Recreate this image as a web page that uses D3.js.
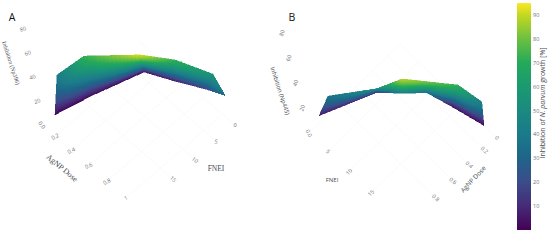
<!DOCTYPE html>
<html>
<head>
<meta charset="utf-8">
<script src="https://cdn.jsdelivr.net/npm/d3@7"></script>
<style>
  html, body { margin: 0; padding: 0; background: #fff; }
  svg { display: block; }
</style>
</head>
<body>
<div id="visual"></div>
<script>
// tick labels
const zTicks = [20, 40, 60, 80];
const doseTicksA = [0.2, 0.4, 0.6, 0.8, 1];
const fneiTicksA = [0, 5, 10, 15];
const doseTicksB = [0, 0.2, 0.4, 0.6, 0.8];
const fneiTicksB = [5, 10, 15];
const barTicks = [10, 20, 30, 40, 50, 60, 70, 80, 90];

// panel A (Np396): far edge of the sheet, then near edge
const farDoseA = [0.106, 0.421, 0.878, 0.947, 1.105, 1.149];
const farFneiA = [20.7, 20.2, 16.9, 10.5, 5.2, 3.3];
const farInhibA = [40, 72, 92, 72, 55, 35];
const nearDoseA = [0.04, 0.16, 0.33, 0.56, 0.89, 1.149];
const nearFneiA = [20.2, 13.8, 4.7, 3.1, 1.9, 3.3];
const nearInhibA = [2, 3, 4, 7, 18, 35];

// panel B (Np445)
const farDoseB = [1.072, 0.876, 0.938, 0.741, 0.534, 0.249];
const farFneiB = [3.7, 11.1, 18, 20.3, 22.6, 22.9];
const farInhibB = [36, 52, 88, 80, 72, 42];
const nearDoseB = [1.02, 0.63, 0.707, 0.483, 0.15, 0.03];
const nearFneiB = [0, 5.9, 13.5, 14.8, 14.8, 20.2];
const nearInhibB = [6, 15, 45, 35, 4, 2];

// colour bar, greener than plain viridis
const barStops = [0, 10, 20, 30, 40, 50, 60, 70, 80, 90, 95];
const barColors = ["#440154", "#462a78", "#3b4c8a", "#1f6488", "#1a7a8a", "#1a8a80",
                   "#1a9a70", "#25a95a", "#6cc040", "#c4d820", "#fde725"];

const width = 550, height = 243;
const tickColor = "#6b6f76", titleColor = "#474a52";

const color = d3.scaleLinear().domain(barStops).range(barColors);

const svg = d3.select("#visual").append("svg")
    .attr("width", width)
    .attr("height", height)
    .style("font-family", "Open Sans, sans-serif");

// the reference is soft, this also closes the seams between cells
const defs = svg.append("defs");
defs.append("filter")
    .attr("id", "soft")
    .attr("x", "-5%").attr("y", "-5%").attr("width", "110%").attr("height", "110%")
    .append("feGaussianBlur")
    .attr("stdDeviation", 0.45);

// oblique view: each data axis gets its own screen x and y scale
function makeView(v) {
    const doseX = d3.scalePow().exponent(1.15).domain([0, 1]).range([0, v.doseVec[0]]);
    const doseY = d3.scalePow().exponent(1.15).domain([0, 1]).range([0, v.doseVec[1]]);
    const fneiX = d3.scalePow().exponent(1.08).domain([0, 15]).range([0, v.fneiVec[0]]);
    const fneiY = d3.scalePow().exponent(1.08).domain([0, 15]).range([0, v.fneiVec[1]]);
    const zY = d3.scaleLinear().domain([0, 100]).range([0, v.zPx]);
    return function (dose, fnei, z) {
        return [
            v.origin[0] + doseX(dose) + fneiX(fnei),
            v.origin[1] + doseY(dose) + fneiY(fnei) - zY(z)
        ];
    };
}

function drawSurface(project, far, near) {
    const g = svg.append("g")
        .attr("filter", "url(#soft)")
        .attr("shape-rendering", "crispEdges");
    const rows = 36, cols = 14;
    const farPts = far.dose.map((d, i) => project(d, far.fnei[i], far.z[i]));
    const nearPts = near.dose.map((d, i) => project(d, near.fnei[i], near.z[i]));

    // one cell of the sheet, at u along the edges and v across them
    function cell(i, u, v) {
        const top = [d3.interpolateNumber(farPts[i][0], farPts[i + 1][0])(u),
                     d3.interpolateNumber(farPts[i][1], farPts[i + 1][1])(u)];
        const bot = [d3.interpolateNumber(nearPts[i][0], nearPts[i + 1][0])(u),
                     d3.interpolateNumber(nearPts[i][1], nearPts[i + 1][1])(u)];
        return [top[0] + (bot[0] - top[0]) * v, top[1] + (bot[1] - top[1]) * v];
    }
    // purple only shows close to the near edge
    function value(i, u, v) {
        const t = d3.interpolateNumber(far.z[i], far.z[i + 1])(u);
        const b = d3.interpolateNumber(near.z[i], near.z[i + 1])(u);
        return t + (b - t) * Math.pow(v, 1.5);
    }

    d3.range(far.dose.length - 1).forEach(i => {
        d3.range(cols).forEach(c => {
            d3.range(rows).forEach(r => {
                const u0 = c / cols, u1 = (c + 1) / cols;
                const v0 = r / rows, v1 = (r + 1) / rows;
                const pts = [cell(i, u0, v0), cell(i, u1, v0), cell(i, u1, v1), cell(i, u0, v1)];
                const col = color(value(i, (u0 + u1) / 2, (v0 + v1) / 2));
                g.append("path")
                    .attr("d", "M" + pts.join("L") + "Z")
                    .attr("fill", col)
                    .attr("stroke", col)
                    .attr("stroke-width", 0.5);
            });
        });
    });
}

// barely visible grid on the floor of the box
function drawGrid(project, doseEnd, fneiEnd, doses, fneis) {
    const line = d3.line();
    const g = svg.append("g")
        .attr("fill", "none")
        .attr("stroke", "#f6f6f7")
        .attr("stroke-width", 0.6);
    doses.forEach(d => {
        g.append("path").attr("d", line([project(d, 0, 0), project(d, fneiEnd, 0)]));
    });
    fneis.forEach(f => {
        g.append("path").attr("d", line([project(0, f, 0), project(doseEnd, f, 0)]));
    });
}

function label(p, text, rot, size, fill, family) {
    svg.append("text")
        .attr("transform", "translate(" + p[0] + "," + p[1] + ") rotate(" + rot + ")")
        .attr("text-anchor", "middle")
        .attr("dominant-baseline", "central")
        .style("font-size", size + "px")
        .style("font-family", family || null)
        .style("fill", fill)
        .text(text);
}

// Panel A
const viewA = makeView({ origin: [138.4, 41], doseVec: [84, 73], fneiVec: [-62, 54], zPx: 120 });
drawGrid(viewA, 1.13, 22.6, doseTicksA, fneiTicksA);
drawSurface(viewA,
    { dose: farDoseA, fnei: farFneiA, z: farInhibA },
    { dose: nearDoseA, fnei: nearFneiA, z: nearInhibA });

const zLeanA = d3.scaleLinear().domain([0, 80]).range([0, -19]);
zTicks.forEach(z => {
    const p = viewA(0, 22.6, z);
    label([p[0] + zLeanA(z), p[1]], z, -22, 5.5, tickColor);
});
label(viewA(0, 22.6, 0), "0.0", 55, 5.5, tickColor);
doseTicksA.forEach(d => {
    label(viewA(d, 22.6, 0), d === 1 ? "1" : d.toFixed(1), -25, 5.5, tickColor);
});
fneiTicksA.forEach(f => {
    label(viewA(1.13, f, 0), f, f < 10 ? 10 : 40, 5.5, tickColor);
});
label([11, 63], "Inhibition (Np396)", 72, 6, titleColor, "Liberation Serif");
label([62, 168], "AgNP Dose", 40, 8, titleColor, "Liberation Serif");
label([216, 168], "FNEI", 0, 7.5, titleColor, "Liberation Serif");
label([12, 17], "A", 0, 10.5, "#111");

// Panel B
const viewB = makeView({ origin: [399.9, 43.9], doseVec: [-79, 77.5], fneiVec: [62, 60], zPx: 125 });
drawGrid(viewB, 1.15, 22.7, doseTicksB, [0].concat(fneiTicksB));
drawSurface(viewB,
    { dose: farDoseB, fnei: farFneiB, z: farInhibB },
    { dose: nearDoseB, fnei: nearFneiB, z: nearInhibB });

const zLeanB = d3.scaleLinear().domain([0, 80]).range([0, -27]);
zTicks.forEach(z => {
    const p = viewB(1.13, 0, z);
    label([p[0] + zLeanB(z), p[1]], z, -68, 5.5, tickColor);
});
label(viewB(1.13, 0, 0), "0.0", 62, 5.5, tickColor);
fneiTicksB.forEach(f => {
    label(viewB(1.13, f, 0), f, f === 5 ? 45 : -42, 5.5, tickColor);
});
doseTicksB.forEach(d => {
    label(viewB(d, 22.7, 0), d === 0 ? "0" : d.toFixed(1), 40, 5.5, tickColor);
});
label([280, 91], "Inhibition (Np445)", 72, 6, titleColor);
label([473, 179], "AgNP Dose", -47, 6.5, titleColor);
label([332, 180], "FNEI", 0, 6, titleColor);
label([292, 17], "B", 0, 10.5, "#111");

// Colour bar
const barY = d3.scaleLinear().domain([0, 95]).range([230, 3]);
const grad = defs.append("linearGradient")
    .attr("id", "barFill")
    .attr("x1", 0).attr("y1", 1).attr("x2", 0).attr("y2", 0);
barStops.forEach(v => {
    grad.append("stop")
        .attr("offset", v / 95)
        .attr("stop-color", color(v));
});
svg.append("rect")
    .attr("x", 517)
    .attr("y", barY(95))
    .attr("width", 14)
    .attr("height", barY(0) - barY(95))
    .attr("fill", "url(#barFill)");
barTicks.forEach(t => {
    svg.append("text")
        .attr("x", 533)
        .attr("y", barY(t))
        .attr("dominant-baseline", "central")
        .style("font-size", "5.5px")
        .style("fill", tickColor)
        .text(t);
});
const barTitle = svg.append("text")
    .attr("transform", "translate(542,103) rotate(-90)")
    .attr("text-anchor", "middle")
    .attr("dominant-baseline", "central")
    .style("font-size", "7px")
    .style("fill", titleColor);
barTitle.append("tspan").text("Inhibition of ");
barTitle.append("tspan").style("font-style", "italic").text("N. parvum");
barTitle.append("tspan").text(" growth [%]");
</script>
</body>
</html>
